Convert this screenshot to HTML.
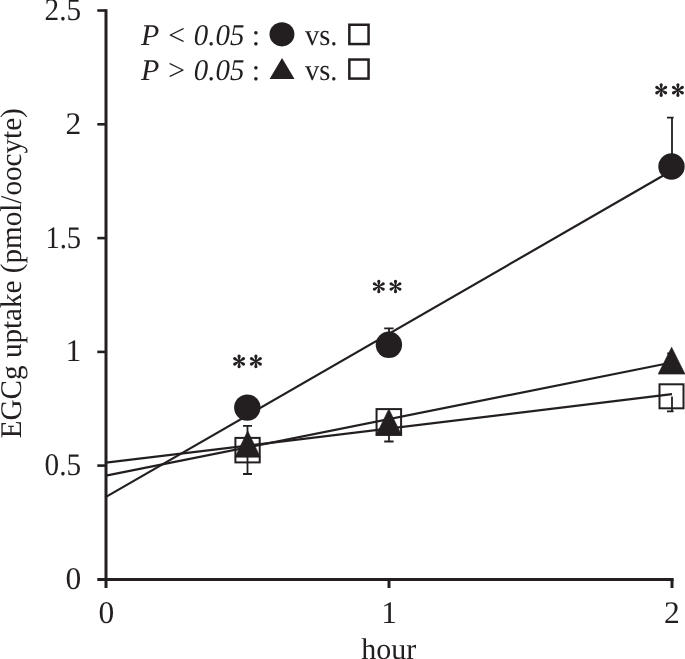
<!DOCTYPE html>
<html>
<head>
<meta charset="utf-8">
<style>
html,body{margin:0;padding:0;background:#fff;}
body{width:685px;height:659px;overflow:hidden;}
svg{display:block;will-change:transform;}
text{font-family:"Liberation Serif",serif;fill:#231f20;text-rendering:geometricPrecision;}
</style>
</head>
<body>
<svg width="685" height="659" viewBox="0 0 685 659">
<defs>
<clipPath id="plot"><rect x="106" y="0" width="567.6" height="580"/></clipPath>
</defs>
<g stroke="#231f20" fill="none">
<!-- axes -->
<line x1="106" y1="9.2" x2="106" y2="588" stroke-width="3"/>
<line x1="97.3" y1="579.4" x2="673.6" y2="579.4" stroke-width="3"/>
<!-- y ticks -->
<g stroke-width="2.6">
<line x1="97.3" y1="10.5" x2="106" y2="10.5"/>
<line x1="97.3" y1="124.3" x2="106" y2="124.3"/>
<line x1="97.3" y1="238.1" x2="106" y2="238.1"/>
<line x1="97.3" y1="351.9" x2="106" y2="351.9"/>
<line x1="97.3" y1="465.6" x2="106" y2="465.6"/>
</g>
<!-- x ticks -->
<g stroke-width="3">
<line x1="389" y1="579" x2="389" y2="588"/>
<line x1="672" y1="579" x2="672" y2="588"/>
</g>
<!-- trend lines -->
<g stroke-width="2.2">
<line x1="106" y1="462.7" x2="672" y2="394.2"/>
<line x1="106" y1="475.7" x2="672" y2="362.5"/>
<line x1="106" y1="496.9" x2="672" y2="170.5"/>
</g>
<!-- error bars -->
<g stroke-width="1.8" clip-path="url(#plot)">
<path d="M247.5 425.9V474 M243 425.9H252 M243 474H252"/>
<path d="M389 328.4V340 M384.2 328.4H393.6"/>
<path d="M389 425V441.5 M384.2 441.5H393.6"/>
<path d="M672 117.6V160 M667 117.6H677"/>
<path d="M672 396.5V411.3 M667 411.3H677"/>
<path d="M672 360V353.5 M667.2 353.5H676.8"/>
</g>
</g>
<!-- markers -->
<g fill="#231f20">
<circle cx="247.3" cy="407.6" r="13.2"/>
<circle cx="388.9" cy="344.8" r="13.2"/>
<circle cx="671.5" cy="166.5" r="13.2"/>
<polygon stroke="#231f20" stroke-width="0.6" points="247.7,430.9 235.0,457.2 260.4,457.2"/>
<polygon stroke="#231f20" stroke-width="0.6" points="388.85,409.0 375.9,435.4 401.8,435.4"/>
<polygon stroke="#231f20" stroke-width="0.6" points="671.6,347.2 658.2,374.1 685.0,374.1"/>
</g>
<g fill="none" stroke="#231f20" stroke-width="2">
<rect x="235.4" y="437.9" width="24.3" height="24.5"/>
<rect x="376.55" y="409.1" width="24.55" height="25.6"/>
<rect x="659.5" y="384.3" width="24" height="24"/>
</g>
<!-- asterisks -->
<defs>
<path id="lobe" d="M-0.35,0 L-1.45,-4.5 A1.6,1.6 0 1 1 1.45,-4.5 L0.35,0 Z"/>
<g id="ast"><circle r="1.3"/><use href="#lobe"/><use href="#lobe" transform="rotate(58)"/><use href="#lobe" transform="rotate(122)"/><use href="#lobe" transform="rotate(180)"/><use href="#lobe" transform="rotate(238)"/><use href="#lobe" transform="rotate(302)"/></g>
</defs>
<g fill="#231f20">
<use href="#ast" x="239.1" y="361.4"/><use href="#ast" x="255.9" y="361.4"/>
<use href="#ast" x="378.8" y="286.5"/><use href="#ast" x="395.5" y="286.5"/>
<use href="#ast" x="661.2" y="90.1"/><use href="#ast" x="677.9" y="90.1"/>
</g>
<!-- y labels -->
<g font-size="31.5" text-anchor="end">
<text x="81.2" y="19.9" textLength="36.6" lengthAdjust="spacingAndGlyphs">2.5</text>
<text x="81.2" y="133.9">2</text>
<text x="81.2" y="247.8" textLength="35.8" lengthAdjust="spacingAndGlyphs">1.5</text>
<text x="81.2" y="361.4">1</text>
<text x="81.2" y="475.2" textLength="36.6" lengthAdjust="spacingAndGlyphs">0.5</text>
<text x="81.2" y="588.6">0</text>
</g>
<g font-size="31.5" text-anchor="middle">
<text x="106.3" y="622.6">0</text>
<text x="389" y="623">1</text>
<text x="671.8" y="623">2</text>
</g>
<text font-size="30" x="388.8" y="659" text-anchor="middle">hour</text>
<text font-size="30" text-anchor="middle" textLength="330" lengthAdjust="spacingAndGlyphs" transform="translate(21,273.2) rotate(-90)">EGCg uptake (pmol/oocyte)</text>
<!-- legend -->
<g font-size="30">
<text x="141" y="45" font-style="italic">P &lt;</text>
<text x="193.8" y="45" font-style="italic" textLength="50.6" lengthAdjust="spacingAndGlyphs">0.05</text>
<text x="251.8" y="45">:</text>
<text x="305" y="45" textLength="32.5" lengthAdjust="spacingAndGlyphs">vs.</text>
<text x="141" y="79.5" font-style="italic">P &gt;</text>
<text x="193.8" y="79.5" font-style="italic" textLength="50.6" lengthAdjust="spacingAndGlyphs">0.05</text>
<text x="251.8" y="79.5">:</text>
<text x="305" y="79.5" textLength="32.5" lengthAdjust="spacingAndGlyphs">vs.</text>
</g>
<ellipse cx="281.95" cy="34.3" rx="12.45" ry="12.1" fill="#231f20"/>
<polygon points="282.05,58.0 269.6,79.0 294.5,79.0" fill="#231f20"/>
<rect x="349.35" y="24.75" width="19.2" height="19.3" fill="none" stroke="#231f20" stroke-width="2.5"/>
<rect x="349.35" y="59.55" width="19.2" height="19.05" fill="none" stroke="#231f20" stroke-width="2.5"/>
</svg>
</body>
</html>
